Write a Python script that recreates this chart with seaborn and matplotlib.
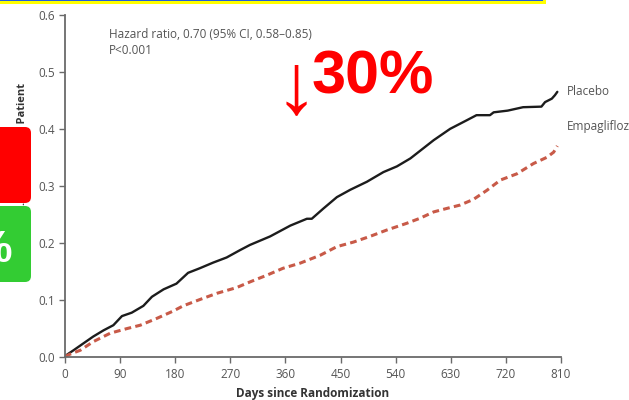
import matplotlib
matplotlib.use("Agg")
import matplotlib.pyplot as plt
from matplotlib.patches import FancyBboxPatch, Rectangle
import numpy as np
import pandas as pd
import seaborn as sns

# ---- data ----
placebo_days = [0, 3, 14, 30, 46, 63, 79, 93, 109, 128, 142, 161, 182, 201, 220, 242, 264,
                286, 302, 335, 368, 395, 403, 422, 444, 466, 493, 520, 542, 564, 602, 629,
                656, 672, 694, 700, 723, 748, 778, 784, 795, 800, 804]
placebo_vals = [0.0, 0.003, 0.011, 0.023, 0.035, 0.046, 0.055, 0.071, 0.077, 0.089, 0.105,
                0.118, 0.128, 0.147, 0.155, 0.165, 0.174, 0.187, 0.196, 0.211, 0.230, 0.242,
                0.242, 0.260, 0.280, 0.293, 0.307, 0.324, 0.334, 0.348, 0.380, 0.400, 0.415,
                0.424, 0.424, 0.429, 0.432, 0.438, 0.439, 0.447, 0.453, 0.459, 0.465]
empa_days = [0, 8, 25, 46, 74, 101, 123, 150, 177, 193, 220, 248, 280, 302, 330, 356, 384,
             417, 444, 471, 498, 525, 558, 580, 602, 623, 645, 667, 689, 711, 738, 765, 787,
             798, 804]
empa_vals = [0.0, 0.004, 0.011, 0.026, 0.041, 0.049, 0.055, 0.067, 0.080, 0.089, 0.100,
             0.111, 0.121, 0.131, 0.143, 0.155, 0.164, 0.178, 0.193, 0.201, 0.211, 0.222,
             0.234, 0.243, 0.254, 0.260, 0.266, 0.276, 0.292, 0.310, 0.321, 0.339, 0.350,
             0.359, 0.370]
groups = ["Placebo", "Empagliflozin"]
x_ticks = [0, 90, 180, 270, 360, 450, 540, 630, 720, 810]
y_ticks = [0.0, 0.1, 0.2, 0.3, 0.4, 0.5, 0.6]
hr_line1 = "Hazard ratio, 0.70 (95% CI, 0.58\u20130.85)"
hr_line2 = "P<0.001"
x_label = "Days since Randomization"
y_label = "Mean No. of Events per Patient"

df = pd.concat([
    pd.DataFrame({"day": placebo_days, "value": placebo_vals, "group": groups[0]}),
    pd.DataFrame({"day": empa_days, "value": empa_vals, "group": groups[1]}),
], ignore_index=True)

sns.set_theme(style="ticks")
plt.rcParams["font.family"] = ["Open Sans", "DejaVu Sans"]

fig = plt.figure(figsize=(6.29, 4.0), dpi=100)
fig.patch.set_facecolor("white")
ax = fig.add_axes([65 / 629, 1 - 356.5 / 400, 496 / 629, (356.5 - 15) / 400])

sns.lineplot(data=df, x="day", y="value", hue="group", style="group",
             palette={"Placebo": "#1c1c1c", "Empagliflozin": "#c85a48"},
             dashes={"Placebo": "", "Empagliflozin": (2.2, 1.4)},
             estimator=None, sort=False, legend=False, ax=ax)
for line in ax.get_lines():
    if line.get_linestyle() == "-":
        line.set_linewidth(1.7)
    else:
        line.set_linewidth(2.2)

ax.set_xlim(0, 810)
ax.set_ylim(0, 0.6)
ax.set_xticks(x_ticks)
ax.set_yticks(y_ticks)
ax.set_xticklabels([str(t) for t in x_ticks])
ax.set_yticklabels([f"{t:.1f}" for t in y_ticks])
for s in ["top", "right"]:
    ax.spines[s].set_visible(False)
for s in ["left", "bottom"]:
    ax.spines[s].set_color("#6a6a6a")
    ax.spines[s].set_linewidth(1.3)
ax.tick_params(axis="both", colors="#6a6a6a", labelcolor="#555555", labelsize=8.5,
               length=4, width=1.0)
ax.tick_params(axis="x", pad=4)
ax.tick_params(axis="y", pad=3)
ax.set_facecolor("white")

ax.set_xlabel(x_label, fontsize=8.5, fontweight="bold", color="#333333")
ax.xaxis.set_label_coords(0.5, -0.09)
ax.set_ylabel(y_label, fontsize=8, fontweight="bold", color="#333333")
ax.yaxis.set_label_coords(-0.075, 0.55)

ax.text(567 / 629, 1 - 95 / 400, "Placebo", transform=fig.transFigure,
        fontsize=8.5, color="#555555", ha="left", va="baseline", clip_on=False)
ax.text(567 / 629, 1 - 130 / 400, "Empagliflozin", transform=fig.transFigure,
        fontsize=8.5, color="#555555", ha="left", va="baseline", clip_on=False)
ax.text(109 / 629, 1 - 38.5 / 400, hr_line1, transform=fig.transFigure,
        fontsize=8.5, color="#555555", ha="left", va="baseline")
ax.text(109 / 629, 1 - 54.5 / 400, hr_line2, transform=fig.transFigure,
        fontsize=8.5, color="#555555", ha="left", va="baseline")

# ---- slide overlays ----
ov = fig.add_axes([0, 0, 1, 1], zorder=10)
ov.set_xlim(0, 629)
ov.set_ylim(400, 0)
ov.axis("off")
ov.patch.set_alpha(0)

ov.add_patch(Rectangle((-5, -5), 551, 8.5, facecolor="#ffff00", edgecolor="none"))
ov.add_patch(Rectangle((-5, -5), 548, 6.3, facecolor="#1f5fe0", edgecolor="none"))

red_box = FancyBboxPatch((-12, 127), 43, 76, boxstyle="round,pad=0,rounding_size=6",
                         facecolor="#ff0000", edgecolor="none")
green_box = FancyBboxPatch((-12, 206), 43, 76, boxstyle="round,pad=0,rounding_size=6",
                           facecolor="#33cc33", edgecolor="none")
ov.add_patch(red_box)
ov.add_patch(green_box)
ov.text(12, 262, "%", ha="right", va="baseline", fontsize=32, fontweight="bold",
        color="white", family=["Liberation Sans", "DejaVu Sans"])

ov.text(312, 94, "30%", ha="left", va="baseline", fontsize=44, fontweight="bold",
        color="#ff0000", family=["Liberation Sans", "DejaVu Sans"])
ov.text(296, 112, "\u2193", ha="center", va="baseline", fontsize=62,
        color="#ff0000", family=["Liberation Sans", "DejaVu Sans"])

fig.savefig("out.png", dpi=100, facecolor="white")
